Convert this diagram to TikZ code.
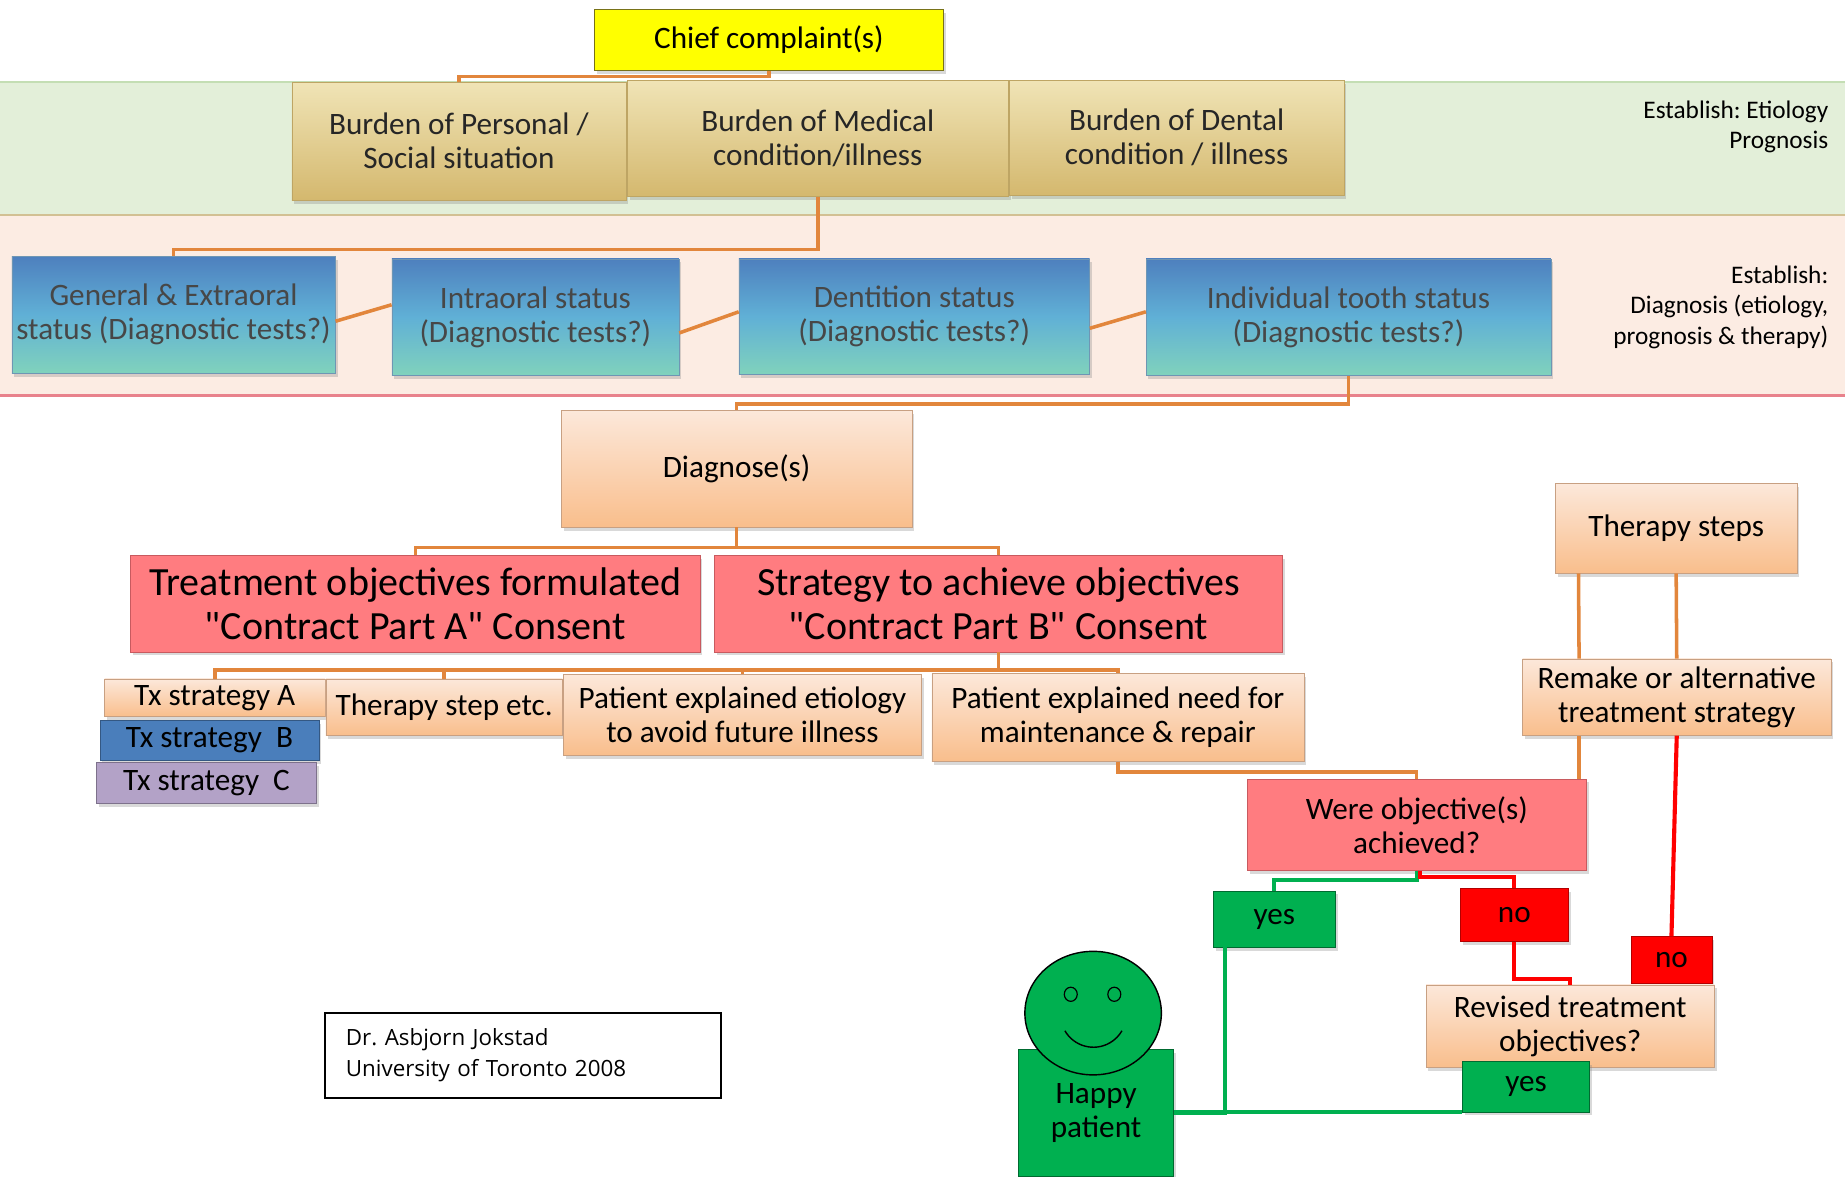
\documentclass[tikz,border=0pt]{standalone}
\usepackage{fontspec}
\setmainfont{Carlito}
\newfontfamily\creditfont{Open Sans}
\usetikzlibrary{positioning,shapes.geometric,shadows,calc}
\frenchspacing

\definecolor{chiefyellow}{RGB}{255,255,0}
\definecolor{burdentop}{RGB}{240,228,182}
\definecolor{burdenbot}{RGB}{212,184,110}
\definecolor{burdenline}{RGB}{190,165,100}
\definecolor{stattop}{RGB}{78,128,190}
\definecolor{statmid}{RGB}{96,176,214}
\definecolor{statbot}{RGB}{128,210,188}
\definecolor{statline}{RGB}{110,150,180}
\definecolor{peachtop}{RGB}{252,232,218}
\definecolor{peachbot}{RGB}{249,190,140}
\definecolor{peachline}{RGB}{200,160,130}
\definecolor{salmon}{RGB}{255,124,128}
\definecolor{salmonline}{RGB}{200,90,95}
\definecolor{okgreen}{RGB}{0,176,80}
\definecolor{nored}{RGB}{255,0,0}
\definecolor{txblue}{RGB}{74,126,187}
\definecolor{txlilac}{RGB}{179,162,199}
\definecolor{lineorange}{RGB}{226,134,60}
\definecolor{bandgreen}{RGB}{227,239,217}
\definecolor{bandgreenline}{RGB}{196,222,180}
\definecolor{bandpink}{RGB}{252,236,227}
\definecolor{bandpinkline}{RGB}{232,130,140}

\tikzset{
  base/.style={rectangle,inner sep=2pt,align=center,font=\fontsize{26.5}{29}\selectfont,
    drop shadow={shadow xshift=2pt,shadow yshift=-3pt,opacity=0.3}},
  chiefbox/.style={base,fill=chiefyellow,draw=olive!80!black},
  burdenbox/.style={base,top color=burdentop,bottom color=burdenbot,draw=burdenline,text=black!85},
  statusbox/.style={base,top color=stattop,bottom color=statbot,middle color=statmid,draw=statline,text=black!72},
  peachbox/.style={base,top color=peachtop,bottom color=peachbot,draw=peachline},
  redbox/.style={base,fill=salmon,draw=salmonline},
  bigredbox/.style={redbox,font=\fontsize{34}{37}\selectfont},
  yesbox/.style={base,fill=okgreen,draw=okgreen!60!black},
  nobox/.style={base,fill=nored,draw=nored!70!black},
  conn/.style={draw=lineorange,line width=3pt},
  greenline/.style={draw=okgreen,line width=3.5pt},
  redline/.style={draw=nored,line width=3.5pt},
  notelabel/.style={align=right,font=\fontsize{21.5}{26}\selectfont,inner sep=0pt}
}

\begin{document}
\begin{tikzpicture}[x=1pt,y=-1pt]

\useasboundingbox (0,0) rectangle (1568,1000);

\fill[bandgreen] (0,70) rectangle (1568,183);
\draw[bandgreenline,line width=1.5pt] (0,70) -- (1568,70);
\fill[bandpink] (0,183) rectangle (1568,336);
\draw[burdenline!70,line width=1.5pt] (0,183) -- (1568,183);
\draw[bandpinkline,line width=2pt] (0,336) -- (1568,336);

\node[notelabel,anchor=east] (estA) at (1554,108) {Establish: Etiology\\Prognosis};
\node[notelabel,anchor=east] (estB) at (1554,261) {Establish:\\Diagnosis (etiology,\\prognosis \& therapy)};

\node[chiefbox,minimum width=297pt,minimum height=52pt] (chief) at (653.5,34) {Chief complaint(s)};

\node[burdenbox,minimum width=284pt,minimum height=100pt] (pers) at (390,120) {Burden of Personal /\\Social situation};
\node[burdenbox,minimum width=324pt,minimum height=99pt] (med) at (695,117.5) {Burden of Medical\\condition/illness};
\node[burdenbox,minimum width=284pt,minimum height=98pt] (dent) at (1000,117) {Burden of Dental\\condition / illness};

\node[statusbox,minimum width=275pt,minimum height=99pt] (gen) at (147.5,267.5) {General \& Extraoral\\status (Diagnostic tests?)};
\node[statusbox,minimum width=244pt,minimum height=99pt] (intra) at (455,269.5) {Intraoral status\\(Diagnostic tests?)};
\node[statusbox,minimum width=298pt,minimum height=98pt] (denti) at (777,269) {Dentition status\\(Diagnostic tests?)};
\node[statusbox,minimum width=344pt,minimum height=99pt] (indiv) at (1146,269.5) {Individual tooth status\\(Diagnostic tests?)};

\node[peachbox,minimum width=298pt,minimum height=99pt] (diag) at (626,398.5) {Diagnose(s)};

\node[bigredbox,minimum width=484pt,minimum height=82pt] (treat) at (353,513) {Treatment objectives formulated\\\textquotedbl Contract Part A\textquotedbl{} Consent};
\node[bigredbox,minimum width=483pt,minimum height=82pt] (strat) at (848.5,513) {Strategy to achieve objectives\\\textquotedbl Contract Part B\textquotedbl{} Consent};

\node[peachbox,minimum width=187pt,minimum height=32pt] (txa) at (182.5,593) {Tx strategy A};
\node[base,fill=txblue,draw=txblue!70!black,minimum width=186pt,minimum height=34pt] (txb) at (178,629) {Tx strategy~~B};
\node[base,fill=txlilac,draw=txlilac!70!black,minimum width=187pt,minimum height=35pt] (txc) at (175.5,665.5) {Tx strategy~~C};
\node[peachbox,minimum width=201pt,minimum height=48pt] (thstep) at (377.5,601) {Therapy step etc.};
\node[peachbox,minimum width=304pt,minimum height=69pt] (etiol) at (631,607.5) {Patient explained etiology\\to avoid future illness};
\node[peachbox,minimum width=316pt,minimum height=75pt] (maint) at (950,609.5) {Patient explained need for\\maintenance \& repair};

\node[redbox,minimum width=288pt,minimum height=78pt] (were) at (1204,701) {Were objective(s)\\achieved?};
\node[peachbox,minimum width=205pt,minimum height=76pt] (thsteps) at (1424.5,449) {Therapy steps};
\node[peachbox,minimum width=262pt,minimum height=65pt] (remake) at (1425,592.5) {Remake or alternative\\treatment strategy};

\node[yesbox,minimum width=104pt,minimum height=48pt] (yesA) at (1083,781) {yes};
\node[nobox,minimum width=92pt,minimum height=45pt] (noA) at (1287,777.5) {no};
\node[nobox,minimum width=69pt,minimum height=40pt] (noB) at (1420.5,816) {no};
\node[peachbox,minimum width=245pt,minimum height=70pt] (revised) at (1334.5,872) {Revised treatment\\objectives?};
\node[yesbox,minimum width=108pt,minimum height=43pt] (yesB) at (1297,923.5) {yes};

\node[yesbox,minimum width=132pt,minimum height=108pt] (happy) at (931.5,946) {Happy\\patient};
\node[ellipse,fill=okgreen,draw=black,line width=1.2pt,minimum width=116pt,minimum height=105pt] (face) at (929,861) {};
\node[ellipse,draw=black,line width=1pt,minimum width=11pt,minimum height=12pt,inner sep=0pt] (eyeL) at (910,845) {};
\node[ellipse,draw=black,line width=1pt,minimum width=11pt,minimum height=12pt,inner sep=0pt] (eyeR) at (947,845) {};
\draw[line width=1.2pt] ([xshift=-24pt,yshift=-15pt]face.center) arc[start angle=210,end angle=330,radius=28pt];

\node[draw=black,line width=1.5pt,align=left,text width=301pt,inner xsep=18pt,minimum height=72pt,font=\creditfont\fontsize{19}{26}\selectfont] (credit) at (444.5,897) {Dr. Asbjorn Jokstad\\University of Toronto 2008};

\draw[conn] (chief.south) -- ++(0,5) -| (pers.north);
\draw[conn] (med.south) -- ++(0,45) -| (gen.north);
\draw[conn] ([yshift=-5.5pt]gen.east) -- ([yshift=10.5pt]intra.west);
\draw[conn] ([yshift=-13.5pt]intra.east) -- ([yshift=4pt]denti.west);
\draw[conn] ([yshift=-10pt]denti.east) -- ([yshift=4.5pt]indiv.west);
\draw[conn] (indiv.south) -- ++(0,24) -| (diag.north);
\draw[conn] (diag.south) -- ++(0,17) coordinate (d1);
\draw[conn] (d1) -| (treat.north);
\draw[conn] (d1) -| (strat.north);
\draw[conn] (strat.south) -- ++(0,15) coordinate (s1);
\draw[conn] (s1) -| (txa.north);
\draw[conn] (s1) -| (thstep.north);
\draw[conn] (s1) -| (etiol.north);
\draw[conn] (s1) -| (maint.north);
\draw[conn] (maint.south) -- ++(0,9) -| (were.north);
\draw[conn] ([xshift=-83pt]thsteps.south) -- ([xshift=-83pt]remake.north);
\draw[conn] (thsteps.south) -- (remake.north);
\draw[conn] ([xshift=-83pt]remake.south) -- ([xshift=-83pt]remake.south |- were.north);

\draw[redline] (remake.south) -- (noB.north);
\draw[greenline] (were.south) -- ++(0,8) -| (yesA.north);
\draw[redline] ([xshift=3pt]were.south) -- ++(0,5) -| (noA.north);
\draw[redline] (noA.south) -- ++(0,32) -| (revised.north);
\draw[greenline] ([xshift=-42pt]yesA.south) |- (happy.east);
\draw[greenline] (yesB.south west) -- (happy.east |- yesB.south west);

\end{tikzpicture}
\end{document}
